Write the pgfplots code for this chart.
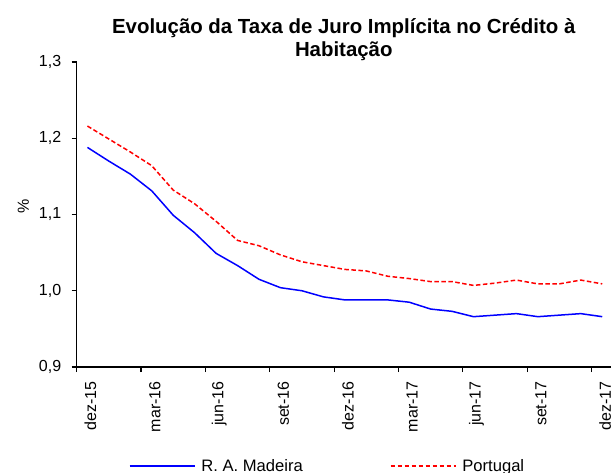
\documentclass[border=0pt]{standalone}
\usepackage{fontspec}
\setmainfont{Liberation Sans}
\usepackage{pgfplots}
\pgfplotsset{compat=1.18}
\begin{document}
\begin{tikzpicture}
\useasboundingbox (-76.7bp,-106bp) rectangle (534.3bp,367bp);
\begin{axis}[
  scale only axis,
  width=534.1bp, height=305bp,
  at={(0,0)}, anchor=south west,
  xmin=-0.5, xmax=24.4,
  ymin=0.9, ymax=1.3,
  axis x line=bottom, axis y line=left,
  axis line style={-, line width=1.2bp, black},
  tick align=outside,
  ytick={0.9,1.0,1.1,1.2,1.3},
  major tick length=5bp,
  minor tick length=5bp,
  xtick={0.14,3.14,6.14,9.14,12.14,15.14,18.14,21.14,24.14},
  xticklabels={dez-15,mar-16,jun-16,set-16,dez-16,mar-17,jun-17,set-17,dez-17},
  x tick style={draw=none},
  minor xtick={-0.5,2.5,5.5,8.5,11.5,14.5,17.5,20.5,23.5},
  minor x tick style={draw=black, line width=1.2bp},
  y tick style={line width=1.2bp, black},
  tick label style={font=\fontsize{16bp}{19bp}\selectfont},
  xticklabel style={rotate=90, anchor=east},
  xticklabel shift={6bp},
  yticklabel shift={7bp},
  /pgf/number format/assume math mode=true,
  yticklabel style={/pgf/number format/.cd, use comma, fixed, fixed zerofill, precision=1},
  ylabel={\%},
  ylabel style={font=\fontsize{16bp}{19bp}\selectfont, at={(axis description cs:-0.1,0.525)}, anchor=center, rotate=0},
  title={Evolução da Taxa de Juro Implícita no Crédito à\\Habitação},
  title style={font=\fontsize{20.4bp}{23bp}\selectfont\bfseries, align=center, at={(axis description cs:0.5,1)}, anchor=south, inner sep=0pt, yshift=-4.5bp},
  legend columns=2,
  legend style={draw=none, fill=none, at={(52bp,-99bp)}, anchor=west, inner sep=0pt,
    font=\fontsize{16.6bp}{19bp}\selectfont,
    /tikz/every odd column/.append style={column sep=4bp},
    /tikz/every even column/.append style={column sep=85bp}},
  legend cell align=left,
  legend image code/.code={\draw[#1] (0bp,0bp) -- (65bp,0bp);},
]
\addplot[blue, line width=1.5bp, mark=none] coordinates {
(0,1.188) (1,1.170) (2,1.153) (3,1.131) (4,1.099) (5,1.076) (6,1.049) (7,1.033) (8,1.015) (9,1.004) (10,1.000) (11,0.992) (12,0.988) (13,0.988) (14,0.988) (15,0.985) (16,0.976) (17,0.973) (18,0.966) (19,0.968) (20,0.970) (21,0.966) (22,0.968) (23,0.970) (24,0.966)
};
\addlegendentry{R. A. Madeira}
\addplot[red, line width=1.5bp, dash pattern=on 4.5bp off 2.5bp, mark=none] coordinates {
(0,1.216) (1,1.199) (2,1.182) (3,1.164) (4,1.132) (5,1.114) (6,1.091) (7,1.066) (8,1.059) (9,1.047) (10,1.038) (11,1.033) (12,1.028) (13,1.026) (14,1.019) (15,1.016) (16,1.012) (17,1.012) (18,1.007) (19,1.010) (20,1.014) (21,1.009) (22,1.009) (23,1.014) (24,1.009)
};
\addlegendentry{Portugal}
\end{axis}
\end{tikzpicture}
\end{document}
